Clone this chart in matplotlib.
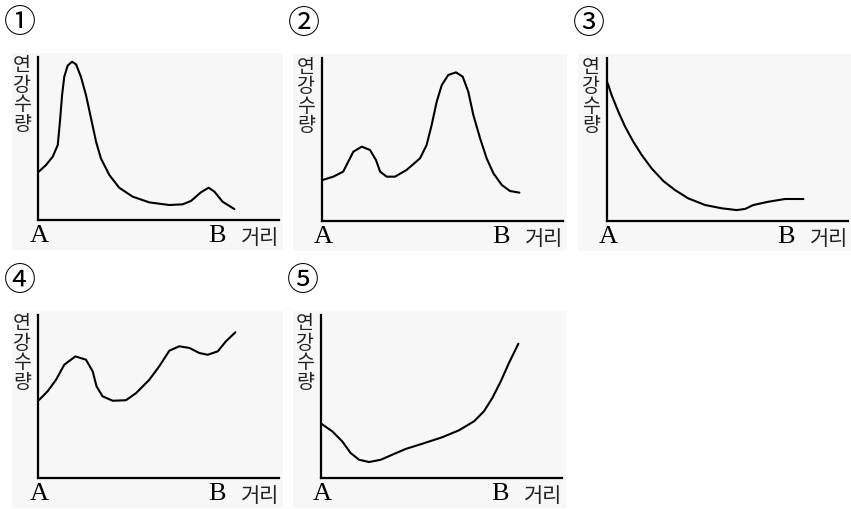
import matplotlib
matplotlib.use("Agg")
import matplotlib.pyplot as plt
from matplotlib.patches import Rectangle

plt.rcParams['font.family'] = ['Noto Sans CJK KR', 'DejaVu Sans']

W, H = 851, 509

# curves, x and y in % of axis length
x1 = [0.3, 3.3, 6.1, 8.2, 9.1, 10, 10.9, 12.3, 14.1, 15.8, 17.8, 19.9, 22, 24.1, 26.1,
      29.6, 33.7, 39.3, 46.2, 54.5, 60, 63.5, 67.6, 70.8, 73.2, 76.6, 81.5]
y1 = [29.6, 33.7, 38.8, 46, 60.3, 76.7, 87.9, 94.7, 97.1, 95.5, 87.9, 76.7, 62.4, 48, 37.8,
      27.6, 19.8, 14.3, 10.8, 9.2, 9.6, 11.7, 17, 19.8, 17.4, 11.2, 6.7]

x2 = [0.3, 4.7, 8.8, 10.9, 13, 16.5, 19.9, 22.4, 24.1, 26.8, 30.3, 35.1, 40.7, 43.4, 45.5,
      47.6, 49.7, 52.4, 55.6, 58.4, 60.7, 62.8, 65.6, 68.3, 71.1, 74.6, 78, 81.9]
y2 = [25.2, 27.2, 30.3, 36.4, 42.5, 45.6, 43.6, 37.4, 30.3, 27.2, 27.2, 31.3, 38.5, 46.6, 58.9,
      73.2, 83.4, 89.6, 91.2, 88.5, 79.3, 65, 50.7, 38.5, 29.3, 22.1, 18.4, 17.4]

x3 = [0.3, 1.9, 4.7, 7.5, 10.9, 14.4, 18.5, 23.4, 28.2, 33.7, 40.7, 47.6, 53.8, 57.3, 60.7,
      66.9, 73.9, 81.5]
y3 = [84.5, 77.3, 67.1, 57.9, 48.7, 40.5, 32.3, 24.5, 19, 13.9, 9.8, 7.8, 6.7, 7.4, 9.8,
      11.8, 13.5, 13.5]

x4 = [0.3, 4, 7.5, 10.9, 15.5, 19.9, 22.7, 24.3, 26.8, 31, 36.5, 40.7, 46.2, 50.3, 54.5,
      58.6, 62.8, 66.9, 70.4, 74.6, 78, 81.9]
y4 = [47.7, 53.2, 60.3, 69.5, 74.6, 72.6, 65.4, 56.2, 50.1, 47.4, 47.7, 52.1, 60.3, 68.5, 78.1,
      80.8, 79.8, 76.7, 75.6, 77.7, 83.9, 89.4]

x5 = [0.3, 4.7, 8.8, 12.3, 15.8, 19.9, 24.8, 29.6, 35.1, 42, 50.3, 57.3, 63.5, 67.6, 71.1,
      74.6, 78, 81.9]
y5 = [33.1, 28.6, 22.5, 15.3, 11.2, 9.8, 11.2, 14.3, 17.8, 21, 25, 29.3, 34.8, 40.9, 49.1,
      59.3, 70.6, 82.4]

curves = [(x1, y1), (x2, y2), (x3, y3), (x4, y4), (x5, y5)]
numbers = ['①', '②', '③', '④', '⑤']
ylabel = ['연', '강', '수', '량']

# pixel origin of each panel (where the two axes meet)
origins = [(38, 220), (322, 221), (607, 221), (38, 478), (321, 478)]
bg_left = [12, 293, 578, 12, 293]

fig = plt.figure(figsize=(W / 100, H / 100), dpi=100)


def fx(px):
    return px / W


def fy(py):
    return 1 - py / H


for (cx, cy), num, (ox, oy), bl in zip(curves, numbers, origins, bg_left):
    # faint grey panel behind everything
    fig.patches.append(Rectangle((fx(bl), fy(oy + 30)), (ox + 245 - bl) / W, 197 / H,
                                 transform=fig.transFigure, facecolor='#f7f7f7',
                                 edgecolor='none', zorder=-5))
    ax = fig.add_axes([fx(ox), fy(oy), 241 / W, 163 / H])
    ax.set_facecolor('none')
    ax.plot(cx, cy, color='black', lw=1.5, solid_capstyle='round',
            solid_joinstyle='round', clip_on=False)
    ax.set_xlim(0, 100)
    ax.set_ylim(0, 100)
    for s in ['top', 'right']:
        ax.spines[s].set_visible(False)
    for s in ['left', 'bottom']:
        ax.spines[s].set_linewidth(1.6)
    ax.set_xticks([])
    ax.set_yticks([])

    fig.text(fx(ox - 18), fy(oy - 197), num, fontsize=23, ha='center', va='center')
    # vertical label, one syllable per line
    for i, ch in enumerate(ylabel):
        fig.text(fx(ox - 16), fy(oy - 154 + 19.5 * i), ch, fontsize=14,
                 ha='center', va='center', color='#222222')
    fig.text(fx(ox + 1), fy(oy + 16), 'A', fontsize=19, family='Liberation Serif',
             ha='center', va='center')
    fig.text(fx(ox + 179), fy(oy + 16), 'B', fontsize=19, family='Liberation Serif',
             ha='center', va='center')
    fig.text(fx(ox + 222), fy(oy + 18), '거리', fontsize=15, ha='center', va='center',
             color='#222222')

fig.savefig('out.png', dpi=100, facecolor='white')
